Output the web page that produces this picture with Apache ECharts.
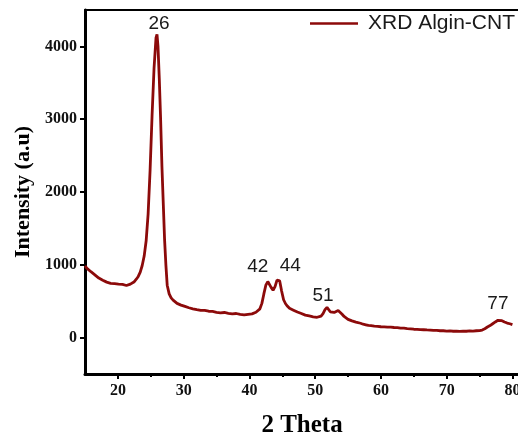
<!DOCTYPE html>
<html>
<head>
<meta charset="utf-8">
<script src="https://cdn.jsdelivr.net/npm/echarts@6/dist/echarts.min.js"></script>
<style>
  html, body { margin: 0; padding: 0; background: #fff; }
  #chart { width: 518px; height: 439px; }
</style>
</head>
<body>
<div id="chart"></div>
<script>
// XRD pattern
const twoTheta = [
  15.0, 15.3, 15.6, 15.9, 16.2, 16.5, 16.8, 17.1, 17.4, 17.7, 18.0, 18.3, 18.6, 18.9, 19.2, 19.5, 19.8,
  20.1, 20.4, 20.7, 21.0, 21.3, 21.6, 21.9, 22.2, 22.5, 22.8, 23.1, 23.4, 23.7, 24.0, 24.3, 24.6, 24.9,
  25.2, 25.5, 25.8, 25.95, 26.1, 26.3, 26.5, 26.7, 26.9, 27.1, 27.3, 27.5, 27.8, 28.1, 28.4, 28.7, 29.0,
  29.3, 29.6, 29.9, 30.2, 30.5, 30.8, 31.1, 31.4, 31.7, 32.0, 32.3, 32.6, 32.9, 33.2, 33.5, 33.8, 34.1,
  34.4, 34.7, 35.0, 35.3, 35.6, 35.9, 36.2, 36.5, 36.8, 37.1, 37.4, 37.7, 38.0, 38.3, 38.6, 38.9, 39.2,
  39.5, 39.8, 40.1, 40.4, 40.7, 41.0, 41.3, 41.6, 41.9, 42.2, 42.5, 42.8, 43.0, 43.3, 43.6, 43.9, 44.2,
  44.4, 44.6, 44.9, 45.2, 45.5, 45.8, 46.1, 46.4, 46.7, 47.0, 47.3, 47.6, 47.9, 48.2, 48.5, 48.8, 49.1,
  49.4, 49.7, 50.0, 50.3, 50.6, 50.9, 51.2, 51.5, 51.8, 52.0, 52.3, 52.6, 52.9, 53.2, 53.5, 53.8, 54.1,
  54.4, 54.7, 55.0, 55.3, 55.6, 55.9, 56.2, 56.5, 56.9, 57.3, 57.7, 58.1, 58.5, 59.0, 59.5, 60.0, 60.5,
  61.0, 61.5, 62.0, 62.5, 63.0, 63.5, 64.0, 64.5, 65.0, 65.5, 66.0, 66.5, 67.0, 67.5, 68.0, 68.5, 69.0,
  69.5, 70.0, 70.5, 71.0, 71.5, 72.0, 72.5, 73.0, 73.5, 74.0, 74.5, 75.0, 75.4, 75.8, 76.2, 76.6, 77.0,
  77.4, 77.8, 78.1, 78.4, 78.8, 79.2, 79.6, 80.0
]
const intensity = [
  985, 950, 930, 905, 880, 862, 835, 818, 800, 788, 770, 762, 750, 746, 736, 742, 728,
  736, 720, 731, 724, 716, 729, 735, 752, 768, 802, 840, 900, 990, 1120, 1330, 1700, 2300,
  3050, 3700, 4120, 4165, 4000, 3550, 3000, 2350, 1850, 1350, 1000, 720, 600, 545, 515, 492, 470,
  457, 446, 437, 428, 421, 410, 406, 396, 393, 384, 381, 374, 371, 373, 361, 362, 353,
  359, 349, 347, 351, 341, 340, 345, 335, 334, 338, 327, 326, 331, 321, 318, 325, 313,
  319, 320, 314, 326, 334, 349, 366, 395, 470, 600, 720, 770, 755, 690, 650, 700, 790,
  815, 780, 640, 520, 465, 430, 402, 386, 377, 360, 352, 336, 331, 316, 309, 300, 297,
  288, 285, 279, 279, 282, 296, 330, 385, 415, 400, 355, 335, 345, 365, 372, 355, 320,
  290, 265, 250, 236, 229, 219, 213, 204, 197, 184, 176, 167, 164, 157, 155, 149, 148,
  144, 143, 139, 137, 131, 129, 124, 121, 115, 114, 109, 108, 105, 104, 99, 99, 94,
  94, 90, 91, 87, 88, 85, 88, 87, 91, 90, 94, 96, 104, 122, 145, 165, 190,
  215, 238, 245, 232, 215, 200, 190, 178
]

// peak annotations
const peakTheta = [25.95, 42.8, 44.4, 51.8, 78.1]
const peakIntensity = [4165, 770, 815, 415, 245]
const peakLabels = ['26', '42', '44', '51', '77']

const seriesName = 'XRD Algin-CNT'
const xLabelValues = [20, 30, 40, 50, 60, 70, 80]
const xMinorValues = [25, 35, 45, 55, 65, 75]
const yLabelValues = [0, 1000, 2000, 3000, 4000]

const labelOffsets = [[2, -1], [-10, -5], [12, -3], [-4, -2], [-2, -6]]

const serif = '"Liberation Serif", "Times New Roman", serif'
const sans = '"Liberation Sans", Arial, sans-serif'
const red = '#8c0a0a'

const chart = echarts.init(document.getElementById('chart'), null, { renderer: 'canvas' })

const option = {
  animation: false,
  backgroundColor: '#fff',
  grid: { left: 85, top: 10, width: 434, height: 364, containLabel: false, outerBoundsMode: 'none' },
  legend: {
    data: [seriesName],
    left: 310,
    top: 13,
    padding: 0,
    icon: 'rect',
    itemWidth: 48,
    itemHeight: 2.5,
    itemStyle: { color: red },
    textStyle: { fontFamily: sans, fontSize: 21, color: '#1a1a1a', padding: [0, 0, 0, 5] }
  },
  xAxis: [
    {
      type: 'value', min: 15, max: 81, position: 'bottom',
      axisLine: { show: true, onZero: false, lineStyle: { color: '#000', width: 3 } },
      axisTick: { show: true, customValues: xLabelValues, length: 5, lineStyle: { color: '#000', width: 2 } },
      axisLabel: {
        customValues: xLabelValues, margin: 9,
        fontFamily: serif, fontWeight: 'bold', fontSize: 16, color: '#111'
      },
      splitLine: { show: false },
      name: '2 Theta', nameLocation: 'middle', nameGap: 39,
      nameTextStyle: { fontFamily: serif, fontWeight: 'bold', fontSize: 25, color: '#000' }
    },
    {
      type: 'value', min: 15, max: 81, position: 'bottom',
      axisLine: { show: false, onZero: false },
      axisTick: { show: true, customValues: xMinorValues, length: 3, lineStyle: { color: '#000', width: 2 } },
      axisLabel: { show: false },
      splitLine: { show: false }
    },
    {
      type: 'value', min: 15, max: 81, position: 'top',
      axisLine: { show: true, onZero: false, lineStyle: { color: '#000', width: 2 } },
      axisTick: { show: false },
      axisLabel: { show: false },
      splitLine: { show: false }
    }
  ],
  yAxis: {
    type: 'value', min: -500, max: 4500,
    axisLine: { show: true, onZero: false, lineStyle: { color: '#000', width: 3 } },
    axisTick: { show: true, customValues: yLabelValues, length: 5, lineStyle: { color: '#000', width: 2 } },
    axisLabel: {
      customValues: yLabelValues, margin: 8,
      formatter: (v) => String(v),
      fontFamily: serif, fontWeight: 'bold', fontSize: 16, color: '#111'
    },
    splitLine: { show: false },
    name: 'Intensity (a.u)', nameLocation: 'middle', nameGap: 48,
    nameTextStyle: { fontFamily: serif, fontWeight: 'bold', fontSize: 22, color: '#000' }
  },
  series: [
    {
      name: seriesName,
      type: 'line',
      xAxisIndex: 0,
      symbol: 'none',
      data: twoTheta.map((t, i) => [t, intensity[i]]),
      lineStyle: { color: red, width: 2.8 },
      itemStyle: { color: red }
    },
    {
      name: 'peaks',
      type: 'scatter',
      xAxisIndex: 0,
      symbolSize: 0,
      silent: true,
      itemStyle: { opacity: 1 },
      data: peakTheta.map((t, i) => ({
        value: [t, peakIntensity[i]],
        label: { offset: labelOffsets[i] }
      })),
      label: {
        show: true,
        position: 'top',
        distance: 0,
        opacity: 1,
        formatter: (p) => peakLabels[p.dataIndex],
        fontFamily: sans, fontSize: 19, color: '#1a1a1a'
      }
    }
  ]
}

chart.setOption(option)
</script>
</body>
</html>
